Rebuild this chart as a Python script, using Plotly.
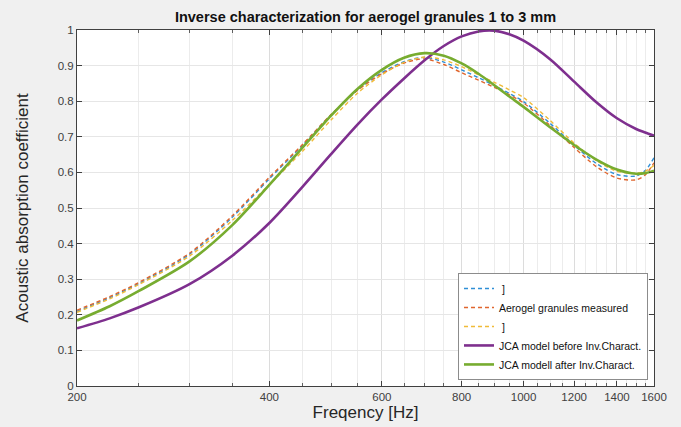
import plotly.graph_objects as go

freq = [200, 225, 250, 300, 350, 400, 450, 500, 550, 600, 650, 700, 750, 800,
        850, 900, 950, 1000, 1100, 1200, 1300, 1400, 1500, 1550, 1600]

meas_blue = [0.210, 0.248, 0.288, 0.370, 0.474, 0.582, 0.675, 0.762, 0.832, 0.880,
             0.911, 0.923, 0.910, 0.888, 0.866, 0.844, 0.822, 0.799, 0.738, 0.676,
             0.625, 0.594, 0.590, 0.605, 0.641]
meas_orange = [0.213, 0.251, 0.291, 0.373, 0.478, 0.586, 0.677, 0.763, 0.831, 0.877,
               0.907, 0.919, 0.903, 0.880, 0.859, 0.839, 0.818, 0.795, 0.732, 0.670,
               0.616, 0.584, 0.579, 0.593, 0.627]
meas_yellow = [0.207, 0.245, 0.285, 0.365, 0.465, 0.566, 0.658, 0.748, 0.823, 0.874,
               0.909, 0.924, 0.916, 0.897, 0.874, 0.853, 0.832, 0.810, 0.746, 0.682,
               0.633, 0.603, 0.598, 0.603, 0.620]
jca_before = [0.162, 0.190, 0.221, 0.286, 0.366, 0.458, 0.558, 0.652, 0.735, 0.805,
              0.864, 0.915, 0.955, 0.982, 0.996, 0.998, 0.988, 0.970, 0.918, 0.855,
              0.797, 0.752, 0.722, 0.712, 0.703]
jca_after = [0.184, 0.224, 0.267, 0.350, 0.452, 0.565, 0.668, 0.760, 0.835, 0.888,
             0.922, 0.935, 0.928, 0.906, 0.877, 0.845, 0.813, 0.784, 0.727, 0.677,
             0.636, 0.608, 0.596, 0.598, 0.605]

x_ticks = [200, 400, 600, 800, 1000, 1200, 1400, 1600]
x_minor = [f for f in range(250, 1600, 50) if f not in x_ticks]
y_ticks = [0, 0.1, 0.2, 0.3, 0.4, 0.5, 0.6, 0.7, 0.8, 0.9, 1]

names = [" ]", "Aerogel granules measured", " ]",
         "JCA model before Inv.Charact.", "JCA modell after Inv.Charact."]
colors = ["#2F8FD6", "#E0662E", "#F0BB38", "#7E2F8E", "#77AC30"]

fig = go.Figure()
for vals, name, col in zip([meas_blue, meas_orange, meas_yellow], names[:3], colors[:3]):
    fig.add_trace(go.Scatter(x=freq, y=vals, mode="lines", name=name,
                             line=dict(color=col, width=1.4, dash="4px,3px",
                                       shape="spline", smoothing=0.8)))
for vals, name, col in zip([jca_before, jca_after], names[3:], colors[3:]):
    fig.add_trace(go.Scatter(x=freq, y=vals, mode="lines", name=name,
                             line=dict(color=col, width=2.6, shape="spline",
                                       smoothing=0.8)))

font_fam = "Liberation Sans, Arial, sans-serif"
fig.update_layout(
    width=681, height=427,
    paper_bgcolor="#f0f0f0", plot_bgcolor="white",
    margin=dict(l=77, r=27, t=30, b=41),
    font=dict(family=font_fam, color="#262626", size=12),
    title=dict(text="<b>Inverse characterization for aerogel granules 1 to 3 mm</b>",
               x=0.5, xref="paper", y=1 - 17 / 427, yref="container",
               xanchor="center", yanchor="middle",
               font=dict(size=14.5, color="#111111", family=font_fam)),
    showlegend=True,
    legend=dict(x=0.9896, y=0.017, xanchor="right", yanchor="bottom",
                bgcolor="white", bordercolor="#8c8c8c", borderwidth=1,
                font=dict(size=10.5, color="#111111", family=font_fam),
                tracegroupgap=0, itemwidth=30),
)
fig.update_xaxes(
    type="log", range=[2.30103, 3.20412], automargin=False,
    tickmode="array", tickvals=x_ticks, ticktext=[str(v) for v in x_ticks],
    ticks="inside", ticklen=5, tickcolor="#404040",
    showgrid=True, gridcolor="#dcdcdc", gridwidth=1,
    minor=dict(tickmode="array", tickvals=x_minor, ticks="inside", ticklen=3,
               tickcolor="#606060", showgrid=True, gridcolor="#ececec"),
    showline=True, linecolor="#404040", linewidth=1, mirror="allticks",
    tickfont=dict(size=11.5, color="#404040"),
    title=dict(text="Freqency [Hz]", font=dict(size=17, color="#262626"), standoff=4),
    zeroline=False,
)
fig.update_yaxes(
    range=[0, 1], automargin=False, tickmode="array", tickvals=y_ticks,
    ticktext=[("%g" % v) for v in y_ticks],
    ticks="inside", ticklen=5, tickcolor="#404040",
    showgrid=True, gridcolor="#e6e6e6", gridwidth=1,
    showline=True, linecolor="#404040", linewidth=1, mirror="ticks",
    tickfont=dict(size=11.5, color="#404040"),
    title=dict(text="Acoustic absorption coefficient", font=dict(size=17, color="#262626"),
               standoff=24),
    zeroline=False,
)

fig.write_html("out.html", config={"displayModeBar": False},
               post_script="document.body.style.margin='0px';")
